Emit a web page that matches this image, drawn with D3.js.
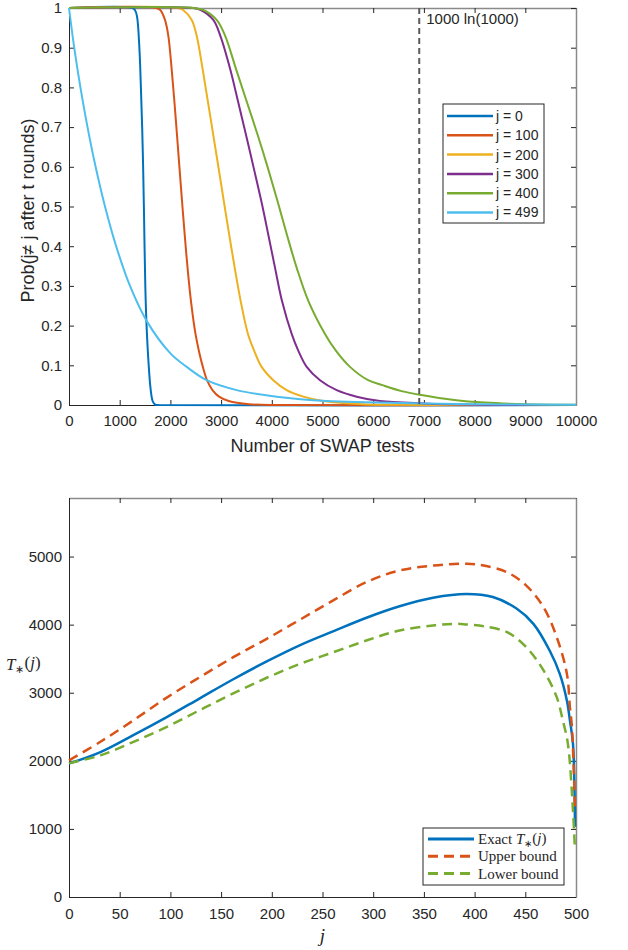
<!DOCTYPE html>
<html>
<head>
<meta charset="utf-8">
<script src="https://cdn.jsdelivr.net/npm/d3@7/dist/d3.min.js"></script>
<style>
  body { margin: 0; background: #fff; }
  svg text { font-family: "Liberation Sans", Arial, sans-serif; fill: #262626; }
  svg text.serif { font-family: "Liberation Serif", "Times New Roman", serif; }
</style>
</head>
<body>
<div id="chart"></div>
<script>
// ---- top panel: Prob(j != j* after t rounds) as [t, prob]
const swapTicks = [0, 1000, 2000, 3000, 4000, 5000, 6000, 7000, 8000, 9000, 10000];
const probTicks = [0, 0.1, 0.2, 0.3, 0.4, 0.5, 0.6, 0.7, 0.8, 0.9, 1];
const probNames = ['j = 0', 'j = 100', 'j = 200', 'j = 300', 'j = 400', 'j = 499'];
const refLineT = 6908;            // 1000 ln(1000)
const refLineLabel = '1000 ln(1000)';

const probJ0 = [[0,1],[1250,1],[1300,0.995],[1340,0.98],[1388,0.9],[1418,0.8],[1443,0.7],[1462,0.6],
  [1477,0.5],[1490,0.4],[1505,0.3],[1530,0.2],[1572,0.1],[1610,0.04],[1650,0.01],[1700,0.001],[1780,0],[10000,0]];
const probJ100 = [[0,1],[1720,1],[1800,0.995],[1893,0.97],[1959,0.93],[2025,0.846],[2080,0.7625],
  [2130,0.68],[2180,0.596],[2230,0.5125],[2282,0.429],[2338,0.346],[2405,0.2625],[2495,0.179],
  [2560,0.1375],[2640,0.096],[2722,0.0625],[2830,0.0375],[2960,0.021],[3150,0.01],[3550,0.002],[4200,0],[10000,0]];
const probJ200 = [[0,1],[2150,1],[2250,0.995],[2420,0.97],[2518,0.93],[2636,0.846],[2742,0.7625],
  [2846,0.68],[2951,0.596],[3055,0.5125],[3160,0.429],[3268,0.346],[3385,0.2625],[3530,0.179],
  [3650,0.1375],[3800,0.096],[4030,0.0625],[4293,0.0375],[4622,0.021],[5016,0.01],[5800,0.002],[7000,0.0002],[10000,0]];
const probJ300 = [[0,1],[2450,1],[2600,0.995],[2846,0.97],[2985,0.93],[3180,0.846],[3338,0.7625],
  [3492,0.68],[3645,0.596],[3795,0.5125],[3931,0.429],[4063,0.346],[4200,0.2625],[4392,0.179],
  [4520,0.1375],[4688,0.096],[4951,0.0625],[5280,0.0375],[5675,0.021],[6134,0.01],[7000,0.004],
  [8000,0.0008],[9000,0.0001],[10000,0]];
const probJ400 = [[0,1],[2450,1],[2650,0.995],[2912,0.97],[3080,0.93],[3295,0.846],[3510,0.7625],
  [3722,0.68],[3925,0.596],[4115,0.5125],[4298,0.429],[4490,0.346],[4720,0.2625],[5049,0.179],
  [5260,0.1375],[5542,0.096],[5900,0.0625],[6180,0.05],[6560,0.035],[6950,0.025],[7600,0.0125],
  [8200,0.006],[9000,0.002],[10000,0.0005]];
const probJ499 = [[0,1],[103,0.9],[225,0.8],[365,0.7],[525,0.6],[710,0.5],[930,0.4],[1203,0.3],
  [1540,0.21],[2000,0.13],[2321,0.096],[2715,0.0625],[3307,0.0375],[4096,0.021],[5082,0.01],
  [7000,0.004],[8500,0.0015],[10000,0.0005]];

// ---- bottom panel: T*(j) and its bounds as [j, T]
const jTicks = [0, 50, 100, 150, 200, 250, 300, 350, 400, 450, 500];
const tStarTicks = [0, 1000, 2000, 3000, 4000, 5000];
const tStarNames = ['Exact', 'Upper bound', 'Lower bound'];

const exactT = [[0,1960],[31,2128],[63,2373],[96,2638],[129,2918],[162,3198],[195,3460],[228,3700],
  [261,3905],[294,4105],[326,4270],[359,4395],[392,4450],[418,4405],[441,4240],[458,4012],[474,3620],
  [484,3278],[491,2887],[494,2593],[497,2251],[499,1030]];
const upperT = [[0,2006],[31,2280],[63,2590],[96,2925],[129,3229],[162,3522],[195,3792],[228,4075],
  [261,4360],[294,4630],[326,4795],[359,4868],[392,4893],[409,4868],[432,4770],[451,4574],[468,4256],
  [481,3816],[491,3278],[494,2789],[496,2495],[499,1270]];
const lowerT = [[0,1966],[31,2080],[63,2275],[96,2495],[129,2745],[162,2990],[195,3220],[228,3425],
  [261,3596],[294,3770],[326,3914],[359,3987],[382,4012],[392,4002],[409,3977],[432,3889],[451,3669],
  [468,3327],[481,2935],[487,2593],[492,2251],[497,1272],[499,685]];

const matlab = ['#0072BD', '#D95319', '#EDB120', '#7E2F8E', '#77AC30', '#4DBEEE'];

class Chart {
  constructor(config){
    this.svg = config.svg;
    this.box = config.box;
    this.cfg = config;
    this.draw();
  }
  draw(){
    this.plot = this.svg.append('g').attr('class', this.cfg.name);
    this.createScales();
    this.createAxis();
    this.addLines();
    this.addLegend();
    this.addLabels();
  }
  createScales(){
    const b = this.box;
    this.xScale = d3.scaleLinear().domain(this.cfg.xDomain).range([b.l, b.r]);
    this.yScale = d3.scaleLinear().domain(this.cfg.yDomain).range([b.b, b.t]);
  }
  createAxis(){
    const b = this.box, c = this.cfg;
    const bottom = d3.axisBottom(this.xScale).tickValues(c.xTicks).tickFormat(d3.format('d'))
      .tickSizeInner(-5).tickSizeOuter(0).tickPadding(c.xPad);
    const left = d3.axisLeft(this.yScale).tickValues(c.yTicks).tickFormat(c.yFormat)
      .tickSizeInner(-5).tickSizeOuter(0).tickPadding(7);
    const top = d3.axisTop(this.xScale).tickValues(c.xTicks).tickFormat('')
      .tickSizeInner(-5).tickSizeOuter(0);
    const right = d3.axisRight(this.yScale).tickValues(c.yTicks).tickFormat('')
      .tickSizeInner(-5).tickSizeOuter(0);

    const gb = this.plot.append('g').attr('transform', `translate(0,${b.b})`).call(bottom);
    const gl = this.plot.append('g').attr('transform', `translate(${b.l},0)`).call(left);
    const gt = this.plot.append('g').attr('transform', `translate(0,${b.t})`).call(top);
    const gr = this.plot.append('g').attr('transform', `translate(${b.r},0)`).call(right);

    [gb, gl].forEach(g => {
      g.select('.domain').attr('stroke', '#262626');
      g.selectAll('.tick line').attr('stroke', '#262626');
      g.selectAll('.tick text').attr('font-size', 15).attr('fill', '#262626')
        .style('font-family', '"Liberation Sans", Arial, sans-serif');
    });
    [gt, gr].forEach(g => {
      g.select('.domain').attr('stroke', '#8a8a8a').attr('stroke-width', 1.5);
      g.selectAll('.tick line').attr('stroke', '#262626');
    });
  }
  addLines(){
    const line = d3.line()
      .x(d => this.xScale(d[0]))
      .y(d => this.yScale(d[1]))
      .curve(d3.curveCatmullRom.alpha(0.5));
    this.plot.append('g').attr('class', 'lines')
      .selectAll('path')
      .data(this.cfg.series)
      .enter()
      .append('path')
      .attr('d', d => line(d.points))
      .attr('fill', 'none')
      .attr('stroke', d => d.color)
      .attr('stroke-width', this.cfg.lineWidth)
      .attr('stroke-dasharray', d => d.dash || null)
      .attr('stroke-linejoin', 'round');
  }
  addLegend(){
    const lg = this.cfg.legend;
    const g = this.plot.append('g').attr('class', 'legend')
      .attr('transform', `translate(${lg.x},${lg.y})`);
    g.append('rect')
      .attr('width', lg.w).attr('height', lg.h)
      .attr('fill', '#fff').attr('stroke', '#262626').attr('stroke-width', 1);
    const rows = g.selectAll('.row').data(this.cfg.series).enter().append('g')
      .attr('class', 'row')
      .attr('transform', (d, i) => `translate(0,${lg.top + i * lg.rowH})`);
    rows.append('line')
      .attr('x1', lg.lineX0).attr('x2', lg.lineX1)
      .attr('stroke', d => d.color)
      .attr('stroke-width', this.cfg.lineWidth + 0.5)
      .attr('stroke-dasharray', d => d.dash || null);
    rows.append('text')
      .attr('x', lg.textX).attr('dy', '0.35em')
      .attr('font-size', lg.fontSize)
      .attr('class', lg.serif ? 'serif' : null)
      .each(function(d){ d.label(d3.select(this)); });
  }
  addLabels(){
    this.cfg.labels.call(this);
  }
}

const svg = d3.select('#chart').append('svg')
  .attr('width', 628).attr('height', 950)
  .attr('viewBox', '0 0 628 950');

const probSets = [probJ0, probJ100, probJ200, probJ300, probJ400, probJ499];

new Chart({
  svg: svg,
  name: 'prob-chart',
  box: { l: 69, r: 576, t: 8, b: 405 },
  xDomain: [0, 10000],
  yDomain: [0, 1],
  xTicks: swapTicks,
  yTicks: probTicks,
  yFormat: d3.format('~g'),
  xPad: 10,
  lineWidth: 2,
  series: probSets.map((p, i) => ({
    points: p, color: matlab[i],
    label: sel => sel.text(probNames[i])
  })),
  legend: { x: 443, y: 104, w: 101, h: 119, top: 12, rowH: 19.3, lineX0: 4, lineX1: 50, textX: 53, fontSize: 14 },
  labels: function(){
    const b = this.box;
    this.plot.append('line')
      .attr('x1', this.xScale(refLineT)).attr('x2', this.xScale(refLineT))
      .attr('y1', this.yScale(1)).attr('y2', this.yScale(0))
      .attr('stroke', '#5a5a5a').attr('stroke-width', 2)
      .attr('stroke-dasharray', '6,4');
    this.plot.append('text')
      .attr('x', this.xScale(refLineT) + 7).attr('y', 24)
      .attr('font-size', 15)
      .text(refLineLabel);
    this.plot.append('text')
      .attr('x', (b.l + b.r) / 2).attr('y', 452)
      .attr('text-anchor', 'middle').attr('font-size', 18)
      .text('Number of SWAP tests');
    this.plot.append('text')
      .attr('transform', `translate(34,${(b.t + b.b) / 2 + 4}) rotate(-90)`)
      .attr('text-anchor', 'middle').attr('font-size', 18)
      .text('Prob(j\u2260 j after t rounds)');
  }
});

const tStarLabel = (sel, prefix) => {
  sel.append('tspan').text(prefix);
  sel.append('tspan').attr('font-style', 'italic').text('T');
  sel.append('tspan').attr('font-size', '0.65em').attr('dy', '0.3em').text('\u2217');
  sel.append('tspan').attr('dy', '-0.3em').text('(');
  sel.append('tspan').attr('font-style', 'italic').text('j');
  sel.append('tspan').text(')');
};

new Chart({
  svg: svg,
  name: 'tstar-chart',
  box: { l: 69, r: 576, t: 498, b: 897 },
  xDomain: [0, 500],
  yDomain: [0, 5860],
  xTicks: jTicks,
  yTicks: tStarTicks,
  yFormat: d3.format('d'),
  xPad: 11,
  lineWidth: 2.5,
  series: [
    { points: exactT, color: matlab[0], label: sel => tStarLabel(sel, 'Exact ') },
    { points: upperT, color: matlab[1], dash: '10,6', label: sel => sel.text(tStarNames[1]) },
    { points: lowerT, color: matlab[4], dash: '10,6', label: sel => sel.text(tStarNames[2]) }
  ],
  legend: { x: 423, y: 828, w: 141, h: 57, top: 11, rowH: 17.2, lineX0: 5, lineX1: 51, textX: 55, fontSize: 15, serif: true },
  labels: function(){
    const b = this.box;
    this.plot.append('text')
      .attr('class', 'serif')
      .attr('x', (b.l + b.r) / 2).attr('y', 942)
      .attr('text-anchor', 'middle').attr('font-size', 19)
      .attr('font-style', 'italic')
      .text('j');
    const yl = this.plot.append('text')
      .attr('class', 'serif')
      .attr('x', 6).attr('y', 670)
      .attr('font-size', 17);
    tStarLabel(yl, '');
  }
});
</script>
</body>
</html>
